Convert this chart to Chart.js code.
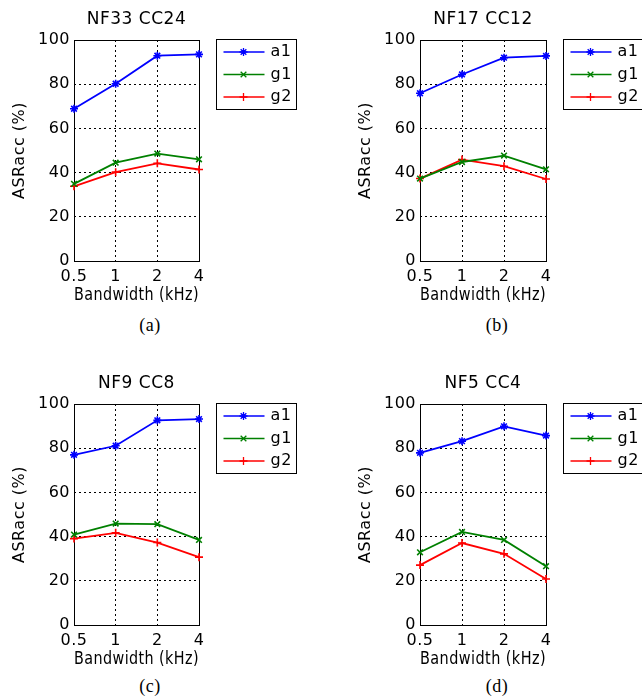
<!DOCTYPE html>
<html>
<head>
<meta charset="utf-8">
<script src="https://cdn.jsdelivr.net/npm/chart.js@4.4.1/dist/chart.umd.min.js"></script>
<style>
  body { margin: 0; background: #fff; width: 642px; height: 700px; position: relative; overflow: hidden; }
  canvas { position: absolute; }
  .sub { position: absolute; font-family: "Liberation Serif", serif; font-size: 18px; line-height: 20px; letter-spacing: 0.5px; color: #000; width: 60px; text-align: center; }
</style>
</head>
<body>
<canvas id="c0" width="321" height="310" style="left:0;top:0"></canvas>
<canvas id="c1" width="296" height="310" style="left:346px;top:0"></canvas>
<canvas id="c2" width="321" height="310" style="left:0;top:364px"></canvas>
<canvas id="c3" width="296" height="310" style="left:346px;top:364px"></canvas>
<div class="sub" style="left:120px;top:315px">(a)</div>
<div class="sub" style="left:467px;top:315px">(b)</div>
<div class="sub" style="left:120px;top:676px">(c)</div>
<div class="sub" style="left:467px;top:676px">(d)</div>
<script>
// data
const bandwidths = ['0.5', '1', '2', '4']
const seriesNames = ['a1', 'g1', 'g2']
const panelTitles = ['NF33 CC24', 'NF17 CC12', 'NF9 CC8', 'NF5 CC4']

const a1_NF33 = [68.9, 80.2, 92.9, 93.5]
const g1_NF33 = [34.9, 44.5, 48.6, 46.0]
const g2_NF33 = [33.8, 40.2, 44.2, 41.4]

const a1_NF17 = [75.9, 84.4, 92.0, 92.8]
const g1_NF17 = [37.3, 44.8, 47.7, 41.5]
const g2_NF17 = [37.3, 45.9, 42.9, 37.1]

const a1_NF9 = [77.0, 81.1, 92.6, 93.2]
const g1_NF9 = [40.9, 45.9, 45.6, 38.5]
const g2_NF9 = [39.1, 41.7, 37.3, 30.7]

const a1_NF5 = [77.9, 83.2, 89.9, 85.7]
const g1_NF5 = [32.9, 42.1, 38.5, 26.6]
const g2_NF5 = [27.1, 37.1, 32.2, 20.8]

const panelData = [
    [a1_NF33, g1_NF33, g2_NF33],
    [a1_NF17, g1_NF17, g2_NF17],
    [a1_NF9, g1_NF9, g2_NF9],
    [a1_NF5, g1_NF5, g2_NF5]
]

const colors = ['#0000ff', '#008000', '#ff0000']
const markers = ['star', 'crossRot', 'cross']
const FONT = '"DejaVu Sans", Verdana, sans-serif'
const SPACING = '0.5px'

// frame, title and boxed legend like the matlab figure
const panelDecor = {
    id: 'panelDecor',
    beforeDraw(chart){
        chart.ctx.letterSpacing = SPACING
    },
    beforeDatasetsDraw(chart){
        const {ctx, chartArea: a} = chart
        ctx.save()
        ctx.strokeStyle = '#000'
        ctx.lineWidth = 1
        ctx.strokeRect(Math.round(a.left) + 0.5, Math.round(a.top) + 0.5,
            Math.round(a.right - a.left), Math.round(a.bottom - a.top))
        ctx.restore()
    },
    afterDraw(chart, args, opts){
        const {ctx, chartArea: a} = chart
        ctx.save()
        ctx.letterSpacing = SPACING
        ctx.fillStyle = '#000'
        ctx.font = '17px ' + FONT
        ctx.textAlign = 'center'
        ctx.textBaseline = 'middle'
        ctx.fillText(opts.title, (a.left + a.right) / 2, 20)

        // legend box
        const bx = Math.round(a.right) + 17.5
        const by = Math.round(a.top) - 0.5
        ctx.strokeStyle = '#000'
        ctx.lineWidth = 1
        ctx.fillStyle = '#fff'
        ctx.fillRect(bx, by, 80, 70)
        ctx.strokeRect(bx, by, 80, 70)
        chart.data.datasets.forEach((ds, i) => {
            const y = by + 12.5 + i * 22.5
            ctx.strokeStyle = ds.borderColor
            ctx.lineWidth = 1.3
            ctx.beginPath()
            ctx.moveTo(bx + 7, y)
            ctx.lineTo(bx + 48, y)
            ctx.stroke()
            Chart.helpers.drawPoint(ctx, {pointStyle: ds.pointStyle, radius: 4, rotation: 0, borderWidth: 1.5}, bx + 27, y)
            ctx.fillStyle = '#000'
            ctx.font = '16px ' + FONT
            ctx.textAlign = 'left'
            ctx.textBaseline = 'middle'
            ctx.fillText(ds.label, bx + 54, y)
        })
        ctx.restore()
    }
}

function make_chart(id, idx, rightPad){
    const ctx = document.getElementById(id).getContext('2d')
    return new Chart(ctx, {
        type: 'line',
        data: {
            labels: bandwidths,
            datasets: seriesNames.map((name, i) => ({
                label: name,
                data: panelData[idx][i],
                borderColor: colors[i],
                backgroundColor: colors[i],
                borderWidth: 1.8,
                pointStyle: markers[i],
                pointRadius: 4,
                pointBorderWidth: 1.6,
                pointHoverRadius: 4,
                tension: 0,
                fill: false,
                clip: false
            }))
        },
        options: {
            responsive: false,
            animation: false,
            devicePixelRatio: 1,
            layout: {padding: {top: 40, right: rightPad, left: 0, bottom: 0}},
            plugins: {
                legend: {display: false},
                tooltip: {enabled: false},
                panelDecor: {title: panelTitles[idx]}
            },
            scales: {
                x: {
                    type: 'category',
                    offset: false,
                    grid: {color: '#000', lineWidth: 1, drawTicks: false},
                    border: {display: false, dash: [2, 3]},
                    ticks: {color: '#000', font: {family: FONT, size: 16}, padding: 6, maxRotation: 0, autoSkip: false},
                    title: {display: true, text: 'Bandwidth (kHz)', color: '#000',
                        font: {family: FONT, size: 17, lineHeight: 1.2}, padding: {top: 0, bottom: 4}},
                    afterFit: s => { s.height = 49; s.paddingLeft = 0; s.paddingRight = 0 }
                },
                y: {
                    min: 0,
                    max: 100,
                    grid: {color: '#000', lineWidth: 1, drawTicks: false},
                    border: {display: false, dash: [2, 3]},
                    ticks: {stepSize: 20, color: '#000', font: {family: FONT, size: 16}, padding: 4},
                    title: {display: true, text: 'ASRacc (%)', color: '#000',
                        font: {family: FONT, size: 16, lineHeight: 1.2}, padding: {top: 10, bottom: 0}},
                    afterFit: s => { s.width = 74; s.paddingTop = 0; s.paddingBottom = 0 }
                }
            }
        },
        plugins: [panelDecor]
    })
}

make_chart('c0', 0, 122)
make_chart('c1', 1, 96)
make_chart('c2', 2, 122)
make_chart('c3', 3, 96)
</script>
</body>
</html>
